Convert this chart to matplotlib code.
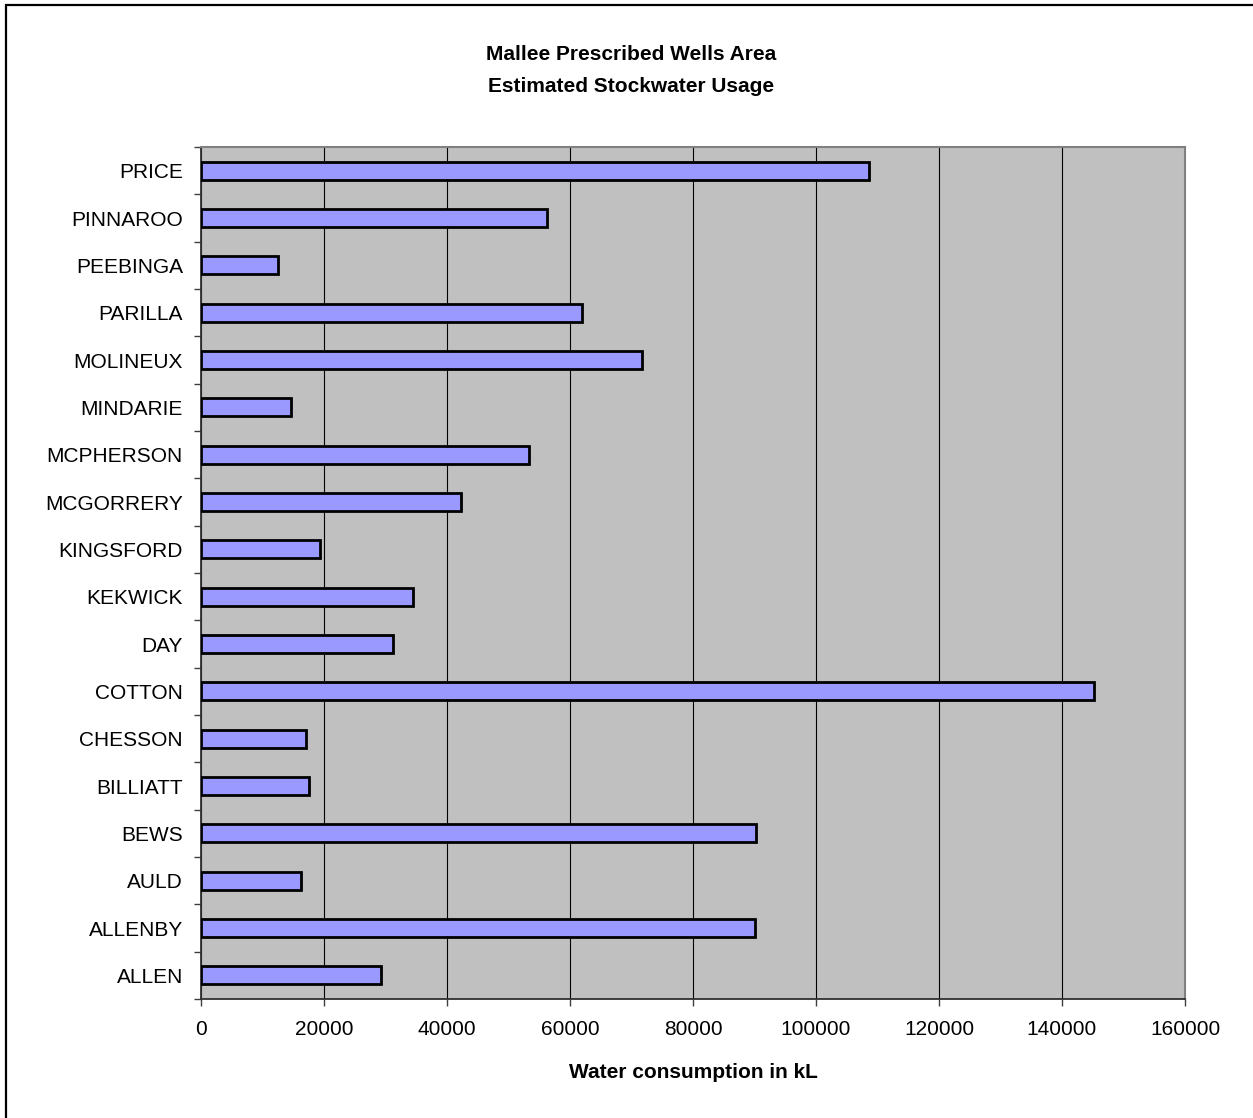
#!/usr/bin/env python3
"""Mallee Prescribed Wells Area - estimated stockwater usage by hundred."""

import matplotlib
matplotlib.use("Agg")
import matplotlib.pyplot as plt
from matplotlib.patches import Rectangle
from matplotlib.ticker import FixedLocator

plt.rcParams["font.family"] = ["Liberation Sans", "DejaVu Sans"]

# bottom to top, as drawn
HUNDREDS = [
    "ALLEN", "ALLENBY", "AULD", "BEWS", "BILLIATT", "CHESSON", "COTTON",
    "DAY", "KEKWICK", "KINGSFORD", "MCGORRERY", "MCPHERSON", "MINDARIE",
    "MOLINEUX", "PARILLA", "PEEBINGA", "PINNAROO", "PRICE",
]
USAGE_KL = [
    29200, 90100, 16250, 90250, 17500, 17000, 145200,
    31300, 34400, 19400, 42200, 53300, 14600,
    71700, 61900, 12500, 56200, 108600,
]
X_TICKS = [0, 20000, 40000, 60000, 80000, 100000, 120000, 140000, 160000]

BAR_COLOR = "#9999FF"
PLOT_BG = "#C0C0C0"

W, H = 1253, 1118


def main():
    fig = plt.figure(figsize=(W / 100, H / 100), dpi=100)
    ax = fig.add_axes([201 / W, 1 - 999 / H, (1185 - 201) / W, (999 - 147) / H])
    ax.set_facecolor(PLOT_BG)

    y = list(range(len(HUNDREDS)))
    ax.barh(y, USAGE_KL, height=0.38, color=BAR_COLOR,
            edgecolor="black", linewidth=2, zorder=3)

    ax.set_xlim(0, 160000)
    ax.set_ylim(-0.5, len(HUNDREDS) - 0.5)
    ax.set_xticks(X_TICKS)
    ax.set_xticklabels([str(v) for v in X_TICKS])
    ax.set_yticks(y)
    ax.set_yticklabels(HUNDREDS)
    ax.yaxis.set_minor_locator(FixedLocator([i - 0.5 for i in range(len(HUNDREDS) + 1)]))

    ax.tick_params(axis="y", which="major", length=0, pad=13, labelsize=15)
    ax.tick_params(axis="y", which="minor", length=5, width=1, direction="out", color="#404040")
    ax.tick_params(axis="x", length=5, width=1, direction="out", pad=10,
                   labelsize=15, color="#404040")

    ax.grid(axis="x", color="black", linewidth=0.8)
    ax.set_axisbelow(True)

    for side in ("left", "bottom"):
        ax.spines[side].set_color("#303030")
        ax.spines[side].set_linewidth(1.3)
    for side in ("top", "right"):
        ax.spines[side].set_color("#808080")
        ax.spines[side].set_linewidth(1.5)

    ax.set_xlabel("Water consumption in kL", fontsize=15, fontweight="bold")
    ax.xaxis.set_label_coords(0.5, (1 - 1072 / H - (1 - 999 / H)) / ((999 - 147) / H))
    ax.xaxis.label.set_va("center")

    fig.text(631 / W, 1 - 55 / H, "Mallee Prescribed Wells Area",
             ha="center", va="center", fontsize=15, fontweight="bold")
    fig.text(631 / W, 1 - 86 / H, "Estimated Stockwater Usage",
             ha="center", va="center", fontsize=15, fontweight="bold")

    # chart frame, cut off at the right and bottom edges of the picture
    fig.patches.append(Rectangle((6 / W, -0.05), 1.2, 1.05 - 5 / H,
                                 transform=fig.transFigure, fill=False,
                                 edgecolor="black", linewidth=1.6))

    fig.savefig("out.png", dpi=100)


if __name__ == "__main__":
    main()
